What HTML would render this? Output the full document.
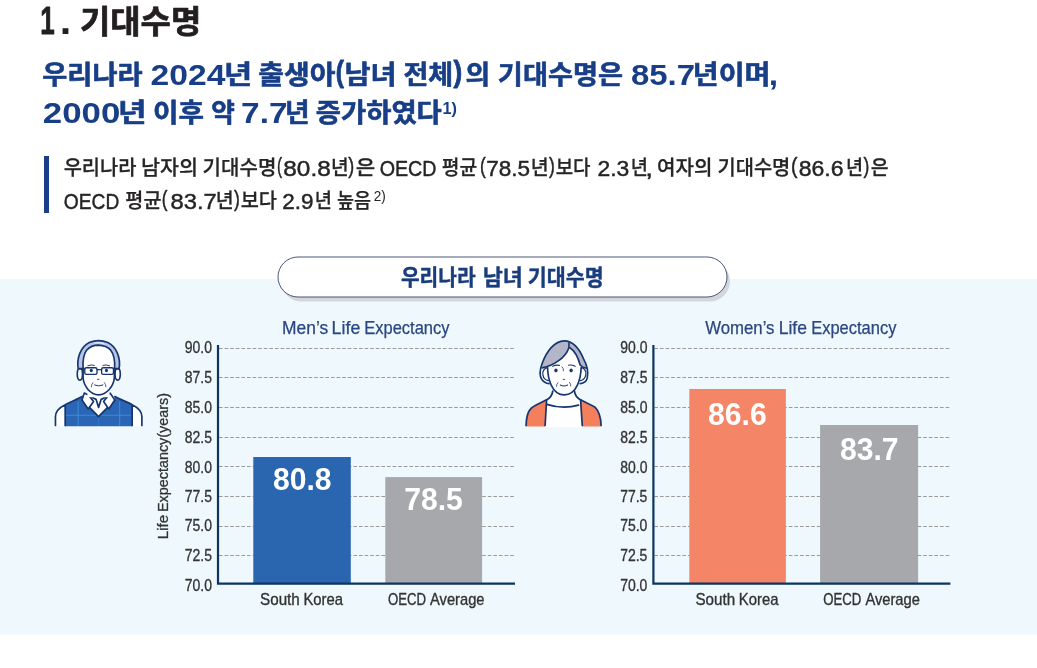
<!DOCTYPE html>
<html lang="ko">
<head>
<meta charset="utf-8">
<title>1. 기대수명</title>
<style>
*{box-sizing:border-box;margin:0;padding:0}
html,body{width:1037px;height:668px;background:#fff;overflow:hidden}
body{position:relative;font-family:"Liberation Sans","Noto Sans CJK KR",sans-serif}
.rule{position:absolute;left:44px;top:156px;width:5px;height:57px;background:#173e86}
svg.page{position:absolute;left:0;top:0;width:1037px;height:668px;overflow:hidden}
svg.page text{font-family:"Liberation Sans","Noto Sans CJK KR",sans-serif;white-space:pre}
</style>
</head>
<body>
<div class="rule"></div>
<svg class="page" width="1037" height="668" viewBox="0 0 1037 668">
<rect id="panel" x="0" y="279" width="1037" height="355.6" fill="#eef8fd"/>
<g id="header">
<text font-weight="700" fill="#231f20" ><tspan x="40.16" y="34.40" font-size="39.60" font-weight="700" textLength="14.47" lengthAdjust="spacingAndGlyphs" stroke="#231f20" stroke-width="0.9" stroke-linejoin="round">1</tspan><tspan x="59.80" y="34.40" font-size="39.60" font-weight="700" textLength="11.52" lengthAdjust="spacingAndGlyphs">.</tspan> <tspan x="79.97" y="32.80" font-size="31.60" font-weight="700" textLength="121.28" lengthAdjust="spacingAndGlyphs" stroke="#231f20" stroke-width="0.7" stroke-linejoin="round">기대수명</tspan></text>
<text font-weight="700" fill="#173e86" ><tspan x="42.31" y="83.60" font-size="26.20" font-weight="700" textLength="100.23" lengthAdjust="spacingAndGlyphs" stroke="#173e86" stroke-width="0.6" stroke-linejoin="round">우리나라</tspan> <tspan x="150.62" y="84.70" font-size="30.20" font-weight="700" textLength="74.84" lengthAdjust="spacingAndGlyphs">2024</tspan><tspan x="223.95" y="83.60" font-size="26.20" font-weight="700" textLength="28.16" lengthAdjust="spacingAndGlyphs" stroke="#173e86" stroke-width="0.6" stroke-linejoin="round">년</tspan> <tspan x="258.34" y="83.60" font-size="26.20" font-weight="700" textLength="77.12" lengthAdjust="spacingAndGlyphs" stroke="#173e86" stroke-width="0.6" stroke-linejoin="round">출생아</tspan><tspan x="335.77" y="82.00" font-size="28.60" font-weight="700" textLength="8.21" lengthAdjust="spacingAndGlyphs" stroke="#173e86" stroke-width="0.8" stroke-linejoin="round">(</tspan><tspan x="344.43" y="83.60" font-size="26.20" font-weight="700" textLength="52.10" lengthAdjust="spacingAndGlyphs" stroke="#173e86" stroke-width="0.6" stroke-linejoin="round">남녀</tspan> <tspan x="403.45" y="83.60" font-size="26.20" font-weight="700" textLength="49.74" lengthAdjust="spacingAndGlyphs" stroke="#173e86" stroke-width="0.6" stroke-linejoin="round">전체</tspan><tspan x="453.47" y="82.00" font-size="28.60" font-weight="700" textLength="8.69" lengthAdjust="spacingAndGlyphs" stroke="#173e86" stroke-width="0.8" stroke-linejoin="round">)</tspan><tspan x="465.50" y="83.60" font-size="26.20" font-weight="700" textLength="24.61" lengthAdjust="spacingAndGlyphs" stroke="#173e86" stroke-width="0.6" stroke-linejoin="round">의</tspan> <tspan x="497.88" y="83.60" font-size="26.20" font-weight="700" textLength="125.21" lengthAdjust="spacingAndGlyphs" stroke="#173e86" stroke-width="0.6" stroke-linejoin="round">기대수명은</tspan> <tspan x="630.91" y="84.70" font-size="30.20" font-weight="700" textLength="64.12" lengthAdjust="spacingAndGlyphs">85.7</tspan><tspan x="692.87" y="83.60" font-size="26.20" font-weight="700" textLength="77.65" lengthAdjust="spacingAndGlyphs" stroke="#173e86" stroke-width="0.6" stroke-linejoin="round">년이며</tspan><tspan x="768.65" y="84.70" font-size="30.20" font-weight="700" textLength="9.33" lengthAdjust="spacingAndGlyphs">,</tspan></text>
<text font-weight="700" fill="#173e86" ><tspan x="42.88" y="122.60" font-size="30.20" font-weight="700" textLength="77.50" lengthAdjust="spacingAndGlyphs">2000</tspan><tspan x="118.11" y="121.80" font-size="26.20" font-weight="700" textLength="28.53" lengthAdjust="spacingAndGlyphs" stroke="#173e86" stroke-width="0.6" stroke-linejoin="round">년</tspan> <tspan x="153.00" y="121.80" font-size="26.20" font-weight="700" textLength="50.90" lengthAdjust="spacingAndGlyphs" stroke="#173e86" stroke-width="0.6" stroke-linejoin="round">이후</tspan> <tspan x="211.34" y="121.80" font-size="26.20" font-weight="700" textLength="23.63" lengthAdjust="spacingAndGlyphs" stroke="#173e86" stroke-width="0.6" stroke-linejoin="round">약</tspan> <tspan x="241.10" y="122.60" font-size="30.20" font-weight="700" textLength="46.41" lengthAdjust="spacingAndGlyphs">7.7</tspan><tspan x="284.90" y="121.80" font-size="26.20" font-weight="700" textLength="24.57" lengthAdjust="spacingAndGlyphs" stroke="#173e86" stroke-width="0.6" stroke-linejoin="round">년</tspan> <tspan x="315.80" y="121.80" font-size="26.20" font-weight="700" textLength="126.04" lengthAdjust="spacingAndGlyphs" stroke="#173e86" stroke-width="0.6" stroke-linejoin="round">증가하였다</tspan><tspan x="442.44" y="113.50" font-size="17.20" font-weight="700" textLength="14.46" lengthAdjust="spacingAndGlyphs">1)</tspan></text>
<text font-weight="400" fill="#262425" ><tspan x="63.64" y="175.40" font-size="20.60" font-weight="500" textLength="72.73" lengthAdjust="spacingAndGlyphs" stroke="#262425" stroke-width="0.25" stroke-linejoin="round">우리나라</tspan> <tspan x="140.97" y="175.40" font-size="20.60" font-weight="500" textLength="56.98" lengthAdjust="spacingAndGlyphs" stroke="#262425" stroke-width="0.25" stroke-linejoin="round">남자의</tspan> <tspan x="202.62" y="175.40" font-size="20.60" font-weight="500" textLength="73.76" lengthAdjust="spacingAndGlyphs" stroke="#262425" stroke-width="0.25" stroke-linejoin="round">기대수명</tspan><tspan x="277.11" y="173.20" font-size="21.80" font-weight="400" textLength="5.09" lengthAdjust="spacingAndGlyphs" stroke="#262425" stroke-width="0.45" stroke-linejoin="round">(</tspan><tspan x="283.33" y="175.90" font-size="22.20" font-weight="400" textLength="47.35" lengthAdjust="spacingAndGlyphs" stroke="#262425" stroke-width="0.45" stroke-linejoin="round">80.8</tspan><tspan x="330.90" y="175.40" font-size="20.60" font-weight="500" textLength="17.70" lengthAdjust="spacingAndGlyphs" stroke="#262425" stroke-width="0.25" stroke-linejoin="round">년</tspan><tspan x="348.35" y="173.20" font-size="21.80" font-weight="400" textLength="5.96" lengthAdjust="spacingAndGlyphs" stroke="#262425" stroke-width="0.45" stroke-linejoin="round">)</tspan><tspan x="355.67" y="175.40" font-size="20.60" font-weight="500" textLength="19.46" lengthAdjust="spacingAndGlyphs" stroke="#262425" stroke-width="0.25" stroke-linejoin="round">은</tspan> <tspan x="379.64" y="175.90" font-size="22.20" font-weight="400" textLength="56.91" lengthAdjust="spacingAndGlyphs" stroke="#262425" stroke-width="0.45" stroke-linejoin="round">OECD</tspan> <tspan x="441.86" y="175.40" font-size="20.60" font-weight="500" textLength="35.38" lengthAdjust="spacingAndGlyphs" stroke="#262425" stroke-width="0.25" stroke-linejoin="round">평균</tspan><tspan x="480.09" y="173.20" font-size="21.80" font-weight="400" textLength="5.72" lengthAdjust="spacingAndGlyphs" stroke="#262425" stroke-width="0.45" stroke-linejoin="round">(</tspan><tspan x="486.30" y="175.90" font-size="22.20" font-weight="400" textLength="43.81" lengthAdjust="spacingAndGlyphs" stroke="#262425" stroke-width="0.45" stroke-linejoin="round">78.5</tspan><tspan x="530.77" y="175.40" font-size="20.60" font-weight="500" textLength="17.96" lengthAdjust="spacingAndGlyphs" stroke="#262425" stroke-width="0.25" stroke-linejoin="round">년</tspan><tspan x="548.95" y="173.20" font-size="21.80" font-weight="400" textLength="5.83" lengthAdjust="spacingAndGlyphs" stroke="#262425" stroke-width="0.45" stroke-linejoin="round">)</tspan><tspan x="555.67" y="175.40" font-size="20.60" font-weight="500" textLength="34.88" lengthAdjust="spacingAndGlyphs" stroke="#262425" stroke-width="0.25" stroke-linejoin="round">보다</tspan> <tspan x="597.48" y="175.90" font-size="22.20" font-weight="400" textLength="31.83" lengthAdjust="spacingAndGlyphs" stroke="#262425" stroke-width="0.45" stroke-linejoin="round">2.3</tspan><tspan x="630.76" y="175.40" font-size="20.60" font-weight="500" textLength="17.19" lengthAdjust="spacingAndGlyphs" stroke="#262425" stroke-width="0.25" stroke-linejoin="round">년</tspan><tspan x="645.18" y="175.90" font-size="22.20" font-weight="400" textLength="7.75" lengthAdjust="spacingAndGlyphs" stroke="#262425" stroke-width="0.45" stroke-linejoin="round">,</tspan> <tspan x="657.12" y="175.40" font-size="20.60" font-weight="500" textLength="55.36" lengthAdjust="spacingAndGlyphs" stroke="#262425" stroke-width="0.25" stroke-linejoin="round">여자의</tspan> <tspan x="717.44" y="175.40" font-size="20.60" font-weight="500" textLength="72.92" lengthAdjust="spacingAndGlyphs" stroke="#262425" stroke-width="0.25" stroke-linejoin="round">기대수명</tspan><tspan x="791.06" y="173.20" font-size="21.80" font-weight="400" textLength="6.47" lengthAdjust="spacingAndGlyphs" stroke="#262425" stroke-width="0.45" stroke-linejoin="round">(</tspan><tspan x="798.69" y="175.90" font-size="22.20" font-weight="400" textLength="44.86" lengthAdjust="spacingAndGlyphs" stroke="#262425" stroke-width="0.45" stroke-linejoin="round">86.6</tspan><tspan x="846.07" y="175.40" font-size="20.60" font-weight="500" textLength="17.07" lengthAdjust="spacingAndGlyphs" stroke="#262425" stroke-width="0.25" stroke-linejoin="round">년</tspan><tspan x="863.45" y="173.20" font-size="21.80" font-weight="400" textLength="5.83" lengthAdjust="spacingAndGlyphs" stroke="#262425" stroke-width="0.45" stroke-linejoin="round">)</tspan><tspan x="870.85" y="175.40" font-size="20.60" font-weight="500" textLength="17.90" lengthAdjust="spacingAndGlyphs" stroke="#262425" stroke-width="0.25" stroke-linejoin="round">은</tspan></text>
<text font-weight="400" fill="#262425" ><tspan x="63.86" y="208.90" font-size="22.20" font-weight="400" textLength="55.46" lengthAdjust="spacingAndGlyphs" stroke="#262425" stroke-width="0.45" stroke-linejoin="round">OECD</tspan> <tspan x="125.34" y="208.40" font-size="20.60" font-weight="500" textLength="36.11" lengthAdjust="spacingAndGlyphs" stroke="#262425" stroke-width="0.25" stroke-linejoin="round">평균</tspan><tspan x="161.79" y="206.20" font-size="21.80" font-weight="400" textLength="5.72" lengthAdjust="spacingAndGlyphs" stroke="#262425" stroke-width="0.45" stroke-linejoin="round">(</tspan><tspan x="170.46" y="208.90" font-size="22.20" font-weight="400" textLength="46.24" lengthAdjust="spacingAndGlyphs" stroke="#262425" stroke-width="0.45" stroke-linejoin="round">83.7</tspan><tspan x="215.77" y="208.40" font-size="20.60" font-weight="500" textLength="17.96" lengthAdjust="spacingAndGlyphs" stroke="#262425" stroke-width="0.25" stroke-linejoin="round">년</tspan><tspan x="233.95" y="206.20" font-size="21.80" font-weight="400" textLength="5.83" lengthAdjust="spacingAndGlyphs" stroke="#262425" stroke-width="0.45" stroke-linejoin="round">)</tspan><tspan x="240.64" y="208.40" font-size="20.60" font-weight="500" textLength="36.23" lengthAdjust="spacingAndGlyphs" stroke="#262425" stroke-width="0.25" stroke-linejoin="round">보다</tspan> <tspan x="282.30" y="208.90" font-size="22.20" font-weight="400" textLength="31.20" lengthAdjust="spacingAndGlyphs" stroke="#262425" stroke-width="0.45" stroke-linejoin="round">2.9</tspan><tspan x="314.66" y="208.40" font-size="20.60" font-weight="500" textLength="17.19" lengthAdjust="spacingAndGlyphs" stroke="#262425" stroke-width="0.25" stroke-linejoin="round">년</tspan> <tspan x="336.99" y="208.40" font-size="20.60" font-weight="500" textLength="34.11" lengthAdjust="spacingAndGlyphs" stroke="#262425" stroke-width="0.25" stroke-linejoin="round">높음</tspan><tspan x="373.72" y="201.00" font-size="13.80" font-weight="400" textLength="12.05" lengthAdjust="spacingAndGlyphs">2)</tspan></text>
</g>
<g id="pill">
<rect x="281" y="261" width="449" height="40.5" rx="20.25" fill="#d3d6db"/>
<rect x="278" y="257" width="449" height="40" rx="20" fill="#fff" stroke="#2b3a60" stroke-width="0.85"/>
<text font-weight="700" fill="#193c7c" ><tspan x="400.89" y="285.00" font-size="21.60" font-weight="700" textLength="74.72" lengthAdjust="spacingAndGlyphs" stroke="#193c7c" stroke-width="0.4" stroke-linejoin="round">우리나라</tspan> <tspan x="482.76" y="285.00" font-size="21.60" font-weight="700" textLength="40.13" lengthAdjust="spacingAndGlyphs" stroke="#193c7c" stroke-width="0.4" stroke-linejoin="round">남녀</tspan> <tspan x="527.87" y="285.00" font-size="21.60" font-weight="700" textLength="75.79" lengthAdjust="spacingAndGlyphs" stroke="#193c7c" stroke-width="0.4" stroke-linejoin="round">기대수명</tspan></text>
</g>
<g id="chart-men">
<line x1="219.0" y1="348.5" x2="515.0" y2="348.5" stroke="#9a9a9a" stroke-width="1" stroke-dasharray="3.6 2"/>
<line x1="219.0" y1="377.5" x2="515.0" y2="377.5" stroke="#9a9a9a" stroke-width="1" stroke-dasharray="3.6 2"/>
<line x1="219.0" y1="407.5" x2="515.0" y2="407.5" stroke="#9a9a9a" stroke-width="1" stroke-dasharray="3.6 2"/>
<line x1="219.0" y1="437.5" x2="515.0" y2="437.5" stroke="#9a9a9a" stroke-width="1" stroke-dasharray="3.6 2"/>
<line x1="219.0" y1="466.5" x2="515.0" y2="466.5" stroke="#9a9a9a" stroke-width="1" stroke-dasharray="3.6 2"/>
<line x1="219.0" y1="496.5" x2="515.0" y2="496.5" stroke="#9a9a9a" stroke-width="1" stroke-dasharray="3.6 2"/>
<line x1="219.0" y1="526.5" x2="515.0" y2="526.5" stroke="#9a9a9a" stroke-width="1" stroke-dasharray="3.6 2"/>
<line x1="219.0" y1="555.5" x2="515.0" y2="555.5" stroke="#9a9a9a" stroke-width="1" stroke-dasharray="3.6 2"/>
<rect x="253.3" y="457.0" width="97.5" height="126.5" fill="#2a65b0"/>
<rect x="385.3" y="477.1" width="96.8" height="106.4" fill="#a6a8ab"/>
<path d="M218.0 345 V583.6 H515.0" fill="none" stroke="#0d3562" stroke-width="2.2"/>
<text fill="#333"><tspan x="184.82" y="353.30" font-size="15.70" font-weight="400" textLength="27.21" lengthAdjust="spacingAndGlyphs" stroke="#333" stroke-width="0.3" stroke-linejoin="round">90.0</tspan></text>
<text fill="#333"><tspan x="184.82" y="383.20" font-size="15.70" font-weight="400" textLength="27.21" lengthAdjust="spacingAndGlyphs" stroke="#333" stroke-width="0.3" stroke-linejoin="round">87.5</tspan></text>
<text fill="#333"><tspan x="184.82" y="413.10" font-size="15.70" font-weight="400" textLength="27.21" lengthAdjust="spacingAndGlyphs" stroke="#333" stroke-width="0.3" stroke-linejoin="round">85.0</tspan></text>
<text fill="#333"><tspan x="184.82" y="442.70" font-size="15.70" font-weight="400" textLength="27.21" lengthAdjust="spacingAndGlyphs" stroke="#333" stroke-width="0.3" stroke-linejoin="round">82.5</tspan></text>
<text fill="#333"><tspan x="184.82" y="472.50" font-size="15.70" font-weight="400" textLength="27.21" lengthAdjust="spacingAndGlyphs" stroke="#333" stroke-width="0.3" stroke-linejoin="round">80.0</tspan></text>
<text fill="#333"><tspan x="184.75" y="502.30" font-size="15.70" font-weight="400" textLength="27.28" lengthAdjust="spacingAndGlyphs" stroke="#333" stroke-width="0.3" stroke-linejoin="round">77.5</tspan></text>
<text fill="#333"><tspan x="184.75" y="531.10" font-size="15.70" font-weight="400" textLength="27.28" lengthAdjust="spacingAndGlyphs" stroke="#333" stroke-width="0.3" stroke-linejoin="round">75.0</tspan></text>
<text fill="#333"><tspan x="184.75" y="560.90" font-size="15.70" font-weight="400" textLength="27.28" lengthAdjust="spacingAndGlyphs" stroke="#333" stroke-width="0.3" stroke-linejoin="round">72.5</tspan></text>
<text fill="#333"><tspan x="184.75" y="590.80" font-size="15.70" font-weight="400" textLength="27.28" lengthAdjust="spacingAndGlyphs" stroke="#333" stroke-width="0.3" stroke-linejoin="round">70.0</tspan></text>
<text font-weight="400" fill="#2b4680" ><tspan x="282.03" y="334.25" font-size="17.70" font-weight="400" textLength="46.14" lengthAdjust="spacingAndGlyphs" stroke="#2b4680" stroke-width="0.25" stroke-linejoin="round">Men’s</tspan> <tspan x="331.60" y="334.25" font-size="17.70" font-weight="400" textLength="28.73" lengthAdjust="spacingAndGlyphs" stroke="#2b4680" stroke-width="0.25" stroke-linejoin="round">Life</tspan> <tspan x="364.20" y="334.25" font-size="17.70" font-weight="400" textLength="85.35" lengthAdjust="spacingAndGlyphs" stroke="#2b4680" stroke-width="0.25" stroke-linejoin="round">Expectancy</tspan></text>
<text font-weight="400" fill="#333" ><tspan x="260.09" y="605.40" font-size="16.20" font-weight="400" textLength="39.69" lengthAdjust="spacingAndGlyphs" stroke="#333" stroke-width="0.35" stroke-linejoin="round">South</tspan> <tspan x="303.39" y="605.40" font-size="16.20" font-weight="400" textLength="39.62" lengthAdjust="spacingAndGlyphs" stroke="#333" stroke-width="0.35" stroke-linejoin="round">Korea</tspan></text>
<text font-weight="400" fill="#333" ><tspan x="387.88" y="605.40" font-size="16.20" font-weight="400" textLength="38.09" lengthAdjust="spacingAndGlyphs" stroke="#333" stroke-width="0.35" stroke-linejoin="round">OECD</tspan> <tspan x="430.00" y="605.40" font-size="16.20" font-weight="400" textLength="54.51" lengthAdjust="spacingAndGlyphs" stroke="#333" stroke-width="0.35" stroke-linejoin="round">Average</tspan></text>
<text font-weight="700" fill="#fff"><tspan x="273.00" y="490.00" font-size="31.50" font-weight="700" textLength="58.55" lengthAdjust="spacingAndGlyphs">80.8</tspan></text>
<text font-weight="700" fill="#fff"><tspan x="404.14" y="510.30" font-size="31.50" font-weight="700" textLength="58.65" lengthAdjust="spacingAndGlyphs">78.5</tspan></text>
<g transform="rotate(-90)"><text font-weight="400" fill="#333" ><tspan x="-539.26" y="167.90" font-size="15.00" font-weight="400" textLength="24.35" lengthAdjust="spacingAndGlyphs" stroke="#333" stroke-width="0.3" stroke-linejoin="round">Life</tspan> <tspan x="-512.00" y="167.90" font-size="15.00" font-weight="400" textLength="119.02" lengthAdjust="spacingAndGlyphs" stroke="#333" stroke-width="0.3" stroke-linejoin="round">Expectancy(years)</tspan></text></g>
</g>
<g id="chart-women">
<line x1="654.4" y1="348.5" x2="950.4" y2="348.5" stroke="#9a9a9a" stroke-width="1" stroke-dasharray="3.6 2"/>
<line x1="654.4" y1="377.5" x2="950.4" y2="377.5" stroke="#9a9a9a" stroke-width="1" stroke-dasharray="3.6 2"/>
<line x1="654.4" y1="407.5" x2="950.4" y2="407.5" stroke="#9a9a9a" stroke-width="1" stroke-dasharray="3.6 2"/>
<line x1="654.4" y1="437.5" x2="950.4" y2="437.5" stroke="#9a9a9a" stroke-width="1" stroke-dasharray="3.6 2"/>
<line x1="654.4" y1="466.5" x2="950.4" y2="466.5" stroke="#9a9a9a" stroke-width="1" stroke-dasharray="3.6 2"/>
<line x1="654.4" y1="496.5" x2="950.4" y2="496.5" stroke="#9a9a9a" stroke-width="1" stroke-dasharray="3.6 2"/>
<line x1="654.4" y1="526.5" x2="950.4" y2="526.5" stroke="#9a9a9a" stroke-width="1" stroke-dasharray="3.6 2"/>
<line x1="654.4" y1="555.5" x2="950.4" y2="555.5" stroke="#9a9a9a" stroke-width="1" stroke-dasharray="3.6 2"/>
<rect x="689.3" y="389.0" width="96.6" height="194.5" fill="#f58567"/>
<rect x="820.1" y="425.0" width="98.0" height="158.5" fill="#a6a8ab"/>
<path d="M653.4 345 V583.6 H950.4" fill="none" stroke="#0d3562" stroke-width="2.2"/>
<text fill="#333"><tspan x="620.22" y="353.30" font-size="15.70" font-weight="400" textLength="27.21" lengthAdjust="spacingAndGlyphs" stroke="#333" stroke-width="0.3" stroke-linejoin="round">90.0</tspan></text>
<text fill="#333"><tspan x="620.22" y="383.20" font-size="15.70" font-weight="400" textLength="27.21" lengthAdjust="spacingAndGlyphs" stroke="#333" stroke-width="0.3" stroke-linejoin="round">87.5</tspan></text>
<text fill="#333"><tspan x="620.22" y="413.10" font-size="15.70" font-weight="400" textLength="27.21" lengthAdjust="spacingAndGlyphs" stroke="#333" stroke-width="0.3" stroke-linejoin="round">85.0</tspan></text>
<text fill="#333"><tspan x="620.22" y="442.70" font-size="15.70" font-weight="400" textLength="27.21" lengthAdjust="spacingAndGlyphs" stroke="#333" stroke-width="0.3" stroke-linejoin="round">82.5</tspan></text>
<text fill="#333"><tspan x="620.22" y="472.50" font-size="15.70" font-weight="400" textLength="27.21" lengthAdjust="spacingAndGlyphs" stroke="#333" stroke-width="0.3" stroke-linejoin="round">80.0</tspan></text>
<text fill="#333"><tspan x="620.15" y="502.30" font-size="15.70" font-weight="400" textLength="27.28" lengthAdjust="spacingAndGlyphs" stroke="#333" stroke-width="0.3" stroke-linejoin="round">77.5</tspan></text>
<text fill="#333"><tspan x="620.15" y="531.10" font-size="15.70" font-weight="400" textLength="27.28" lengthAdjust="spacingAndGlyphs" stroke="#333" stroke-width="0.3" stroke-linejoin="round">75.0</tspan></text>
<text fill="#333"><tspan x="620.15" y="560.90" font-size="15.70" font-weight="400" textLength="27.28" lengthAdjust="spacingAndGlyphs" stroke="#333" stroke-width="0.3" stroke-linejoin="round">72.5</tspan></text>
<text fill="#333"><tspan x="620.15" y="590.80" font-size="15.70" font-weight="400" textLength="27.28" lengthAdjust="spacingAndGlyphs" stroke="#333" stroke-width="0.3" stroke-linejoin="round">70.0</tspan></text>
<text font-weight="400" fill="#2b4680" ><tspan x="705.14" y="334.25" font-size="17.70" font-weight="400" textLength="69.34" lengthAdjust="spacingAndGlyphs" stroke="#2b4680" stroke-width="0.25" stroke-linejoin="round">Women’s</tspan> <tspan x="778.72" y="334.25" font-size="17.70" font-weight="400" textLength="28.30" lengthAdjust="spacingAndGlyphs" stroke="#2b4680" stroke-width="0.25" stroke-linejoin="round">Life</tspan> <tspan x="811.21" y="334.25" font-size="17.70" font-weight="400" textLength="85.24" lengthAdjust="spacingAndGlyphs" stroke="#2b4680" stroke-width="0.25" stroke-linejoin="round">Expectancy</tspan></text>
<text font-weight="400" fill="#333" ><tspan x="695.49" y="605.40" font-size="16.20" font-weight="400" textLength="39.69" lengthAdjust="spacingAndGlyphs" stroke="#333" stroke-width="0.35" stroke-linejoin="round">South</tspan> <tspan x="738.79" y="605.40" font-size="16.20" font-weight="400" textLength="39.62" lengthAdjust="spacingAndGlyphs" stroke="#333" stroke-width="0.35" stroke-linejoin="round">Korea</tspan></text>
<text font-weight="400" fill="#333" ><tspan x="823.28" y="605.40" font-size="16.20" font-weight="400" textLength="38.09" lengthAdjust="spacingAndGlyphs" stroke="#333" stroke-width="0.35" stroke-linejoin="round">OECD</tspan> <tspan x="865.40" y="605.40" font-size="16.20" font-weight="400" textLength="54.51" lengthAdjust="spacingAndGlyphs" stroke="#333" stroke-width="0.35" stroke-linejoin="round">Average</tspan></text>
<text font-weight="700" fill="#fff"><tspan x="708.00" y="425.10" font-size="31.50" font-weight="700" textLength="58.70" lengthAdjust="spacingAndGlyphs">86.6</tspan></text>
<text font-weight="700" fill="#fff"><tspan x="839.90" y="460.00" font-size="31.50" font-weight="700" textLength="58.70" lengthAdjust="spacingAndGlyphs">83.7</tspan></text>
</g>
<g id="avatar-man">
<g transform="translate(55,385) scale(0.07716)" stroke="#17366f" stroke-width="22" stroke-linejoin="round" stroke-linecap="round" fill="none">
<path d="M132 255 C62 290 6 335 6 410 L6 535 L132 535 Z" fill="#fff" stroke="none"/>
<path d="M1000 255 C1070 290 1126 335 1126 410 L1126 535 L1000 535 Z" fill="#fff" stroke="none"/>
<path d="M352 150 C285 190 200 215 132 255 L132 535 L1000 535 L1000 255 C930 215 845 190 775 150 L775 195 L565 410 L352 195 Z" fill="#2a66b5" stroke="none"/>
<g stroke="#3b8ad6" stroke-width="14" stroke-linecap="butt"><path d="M300 215 V528"/><path d="M838 215 V528"/><path d="M140 392 H540 M590 392 H992"/><path d="M565 425 V528" stroke-width="7"/></g>
<path d="M6 524 L6 410 C6 335 62 290 132 255 C200 215 285 190 352 150 M132 262 V524 M1126 524 L1126 410 C1126 335 1070 290 1000 255 C930 215 845 190 775 150 M1000 262 V524"/>
<path d="M352 195 L565 410 L775 195 L715 100 L380 100 Z" fill="#fff" stroke="none"/>
<path d="M352 195 L565 410 L775 195"/>
<path d="M380 105 L350 195 L430 310 L500 215 L432 130 Z" fill="#fff"/>
<path d="M715 105 L775 195 L697 310 L630 215 L698 130 Z" fill="#fff"/>
<path d="M432 130 C480 162 515 180 532 186 L565 290 L598 186 C615 180 650 162 698 130" />
</g>
<g transform="translate(65,335) scale(0.097305)" stroke="#17366f" stroke-width="17" stroke-linejoin="round" stroke-linecap="round" fill="none">
<path d="M238 560 L226 640 L464 640 L452 560 Z" fill="#fff" stroke="none"/>
<ellipse cx="153" cy="402" rx="27" ry="62" fill="#fff"/>
<ellipse cx="541" cy="402" rx="27" ry="62" fill="#fff"/>
<path d="M186 340 L186 440 C192 525 262 615 345 615 C428 615 500 525 507 440 L508 340 C508 200 450 100 345 100 C240 100 186 200 186 340 Z" fill="#fff" stroke="none"/>
<path d="M186 340 L186 440 C192 525 262 615 345 615 C428 615 500 525 507 440 L508 340"/>
<path d="M136 345 C118 240 160 122 250 78 C310 52 380 52 440 78 C532 122 574 240 556 345 L510 345 C514 270 506 200 470 156 C440 124 395 106 345 104 C295 104 250 124 222 156 C188 200 182 270 186 345 Z" fill="#b6c4e8"/>
<path d="M305 82 C340 76 375 80 405 92" stroke="#fff" stroke-width="8"/>
<rect x="203" y="337" width="126" height="68" rx="16" stroke-width="14"/>
<rect x="376" y="337" width="122" height="68" rx="16" stroke-width="14"/>
<path d="M329 356 H376 M140 348 H203 M498 348 H555" stroke-width="13"/>
<ellipse cx="270" cy="366" rx="16" ry="18" fill="#17366f" stroke="none"/>
<ellipse cx="426" cy="366" rx="16" ry="18" fill="#17366f" stroke="none"/>
<path d="M234 316 Q268 300 302 312 M390 312 Q424 300 458 316" stroke-width="10"/>
<path d="M334 456 H350" stroke-width="9"/>
<path d="M304 514 Q346 534 390 514" stroke-width="10"/>
<path d="M286 490 Q268 510 272 532 M406 490 Q422 510 420 532" stroke-width="8"/>
</g>
</g>
<g id="avatar-woman">
<g transform="translate(522,385) scale(0.08197)" stroke="#17366f" stroke-width="21" stroke-linejoin="round" stroke-linecap="round" fill="none">
<path d="M300 180 C220 225 150 245 110 285 C65 330 52 410 50 505 L965 505 C962 400 945 325 895 275 C850 240 790 225 715 180 Z" fill="#f47f5c" stroke="none"/>
<path d="M300 180 C220 225 150 245 110 285 C65 330 52 410 50 494 M965 494 C962 400 945 325 895 275 C850 240 790 225 715 180"/>
<path d="M375 60 C370 120 340 160 300 182 L282 512 L735 512 L715 182 C675 160 645 120 640 60 Z" fill="#fff" stroke="none"/>
<path d="M375 75 C370 125 340 160 300 182 L282 494 M640 75 C645 125 675 160 715 182 L735 494"/>
<path d="M302 236 Q500 300 690 246"/>
</g>
<g transform="translate(532,335) scale(0.097305)" stroke="#17366f" stroke-width="17" stroke-linejoin="round" stroke-linecap="round" fill="none">
<defs><clipPath id="whair"><path d="M175 500 C150 498 120 485 100 455 C78 420 80 355 105 290 C150 170 230 60 332 60 C430 62 490 150 530 245 C560 300 580 380 568 440 C560 475 535 495 495 500 Z"/></clipPath></defs>
<path d="M175 500 C150 498 120 485 100 455 C78 420 80 355 105 290 C150 170 230 60 332 60 C430 62 490 150 530 245 C560 300 580 380 568 440 C560 475 535 495 495 500 Z" fill="#fff" stroke="none"/>
<path d="M160 335 C120 340 105 380 112 410 C118 445 140 465 170 468" fill="#fff" stroke-width="13"/>
<path d="M505 335 C545 340 560 380 553 410 C547 445 525 465 497 468" fill="#fff" stroke-width="13"/>
<path d="M160 330 C160 440 200 615 332 615 C462 615 505 440 505 330 C505 200 440 120 332 120 C225 120 160 200 160 330 Z" fill="#fff" stroke="none"/>
<g clip-path="url(#whair)" stroke="none" fill="#b3b6c8">
<path d="M380 128 C345 240 215 315 100 338 L40 338 L40 0 L380 0 Z"/>
<path d="M386 128 C445 165 478 245 495 308 C512 328 535 338 565 342 L640 342 L640 0 L386 0 Z"/>
</g>
<path d="M380 82 L380 128 C345 240 215 315 104 338"/>
<path d="M386 128 C445 165 478 245 495 308 C512 328 535 338 560 342"/>
<path d="M160 335 C162 440 200 615 332 615 C462 615 503 440 505 335"/>
<path d="M175 500 C150 498 120 485 100 455 C78 420 80 355 105 290 C150 170 230 60 332 60 C430 62 490 150 530 245 C560 300 580 380 568 440 C560 475 535 495 495 500"/>
<ellipse cx="246" cy="364" rx="17" ry="19" fill="#17366f" stroke="none"/>
<ellipse cx="402" cy="364" rx="17" ry="19" fill="#17366f" stroke="none"/>
<path d="M212 322 Q246 304 282 312 M374 310 Q410 302 444 322" stroke-width="11"/>
<path d="M308 326 Q328 345 324 368" stroke-width="8"/>
<path d="M320 456 H334" stroke-width="9"/>
<path d="M290 514 Q328 534 366 514" stroke-width="11"/>
<path d="M266 490 Q248 508 252 528 M386 486 Q402 505 398 524" stroke-width="8"/>
</g>
</g>
</svg>
</body>
</html>
